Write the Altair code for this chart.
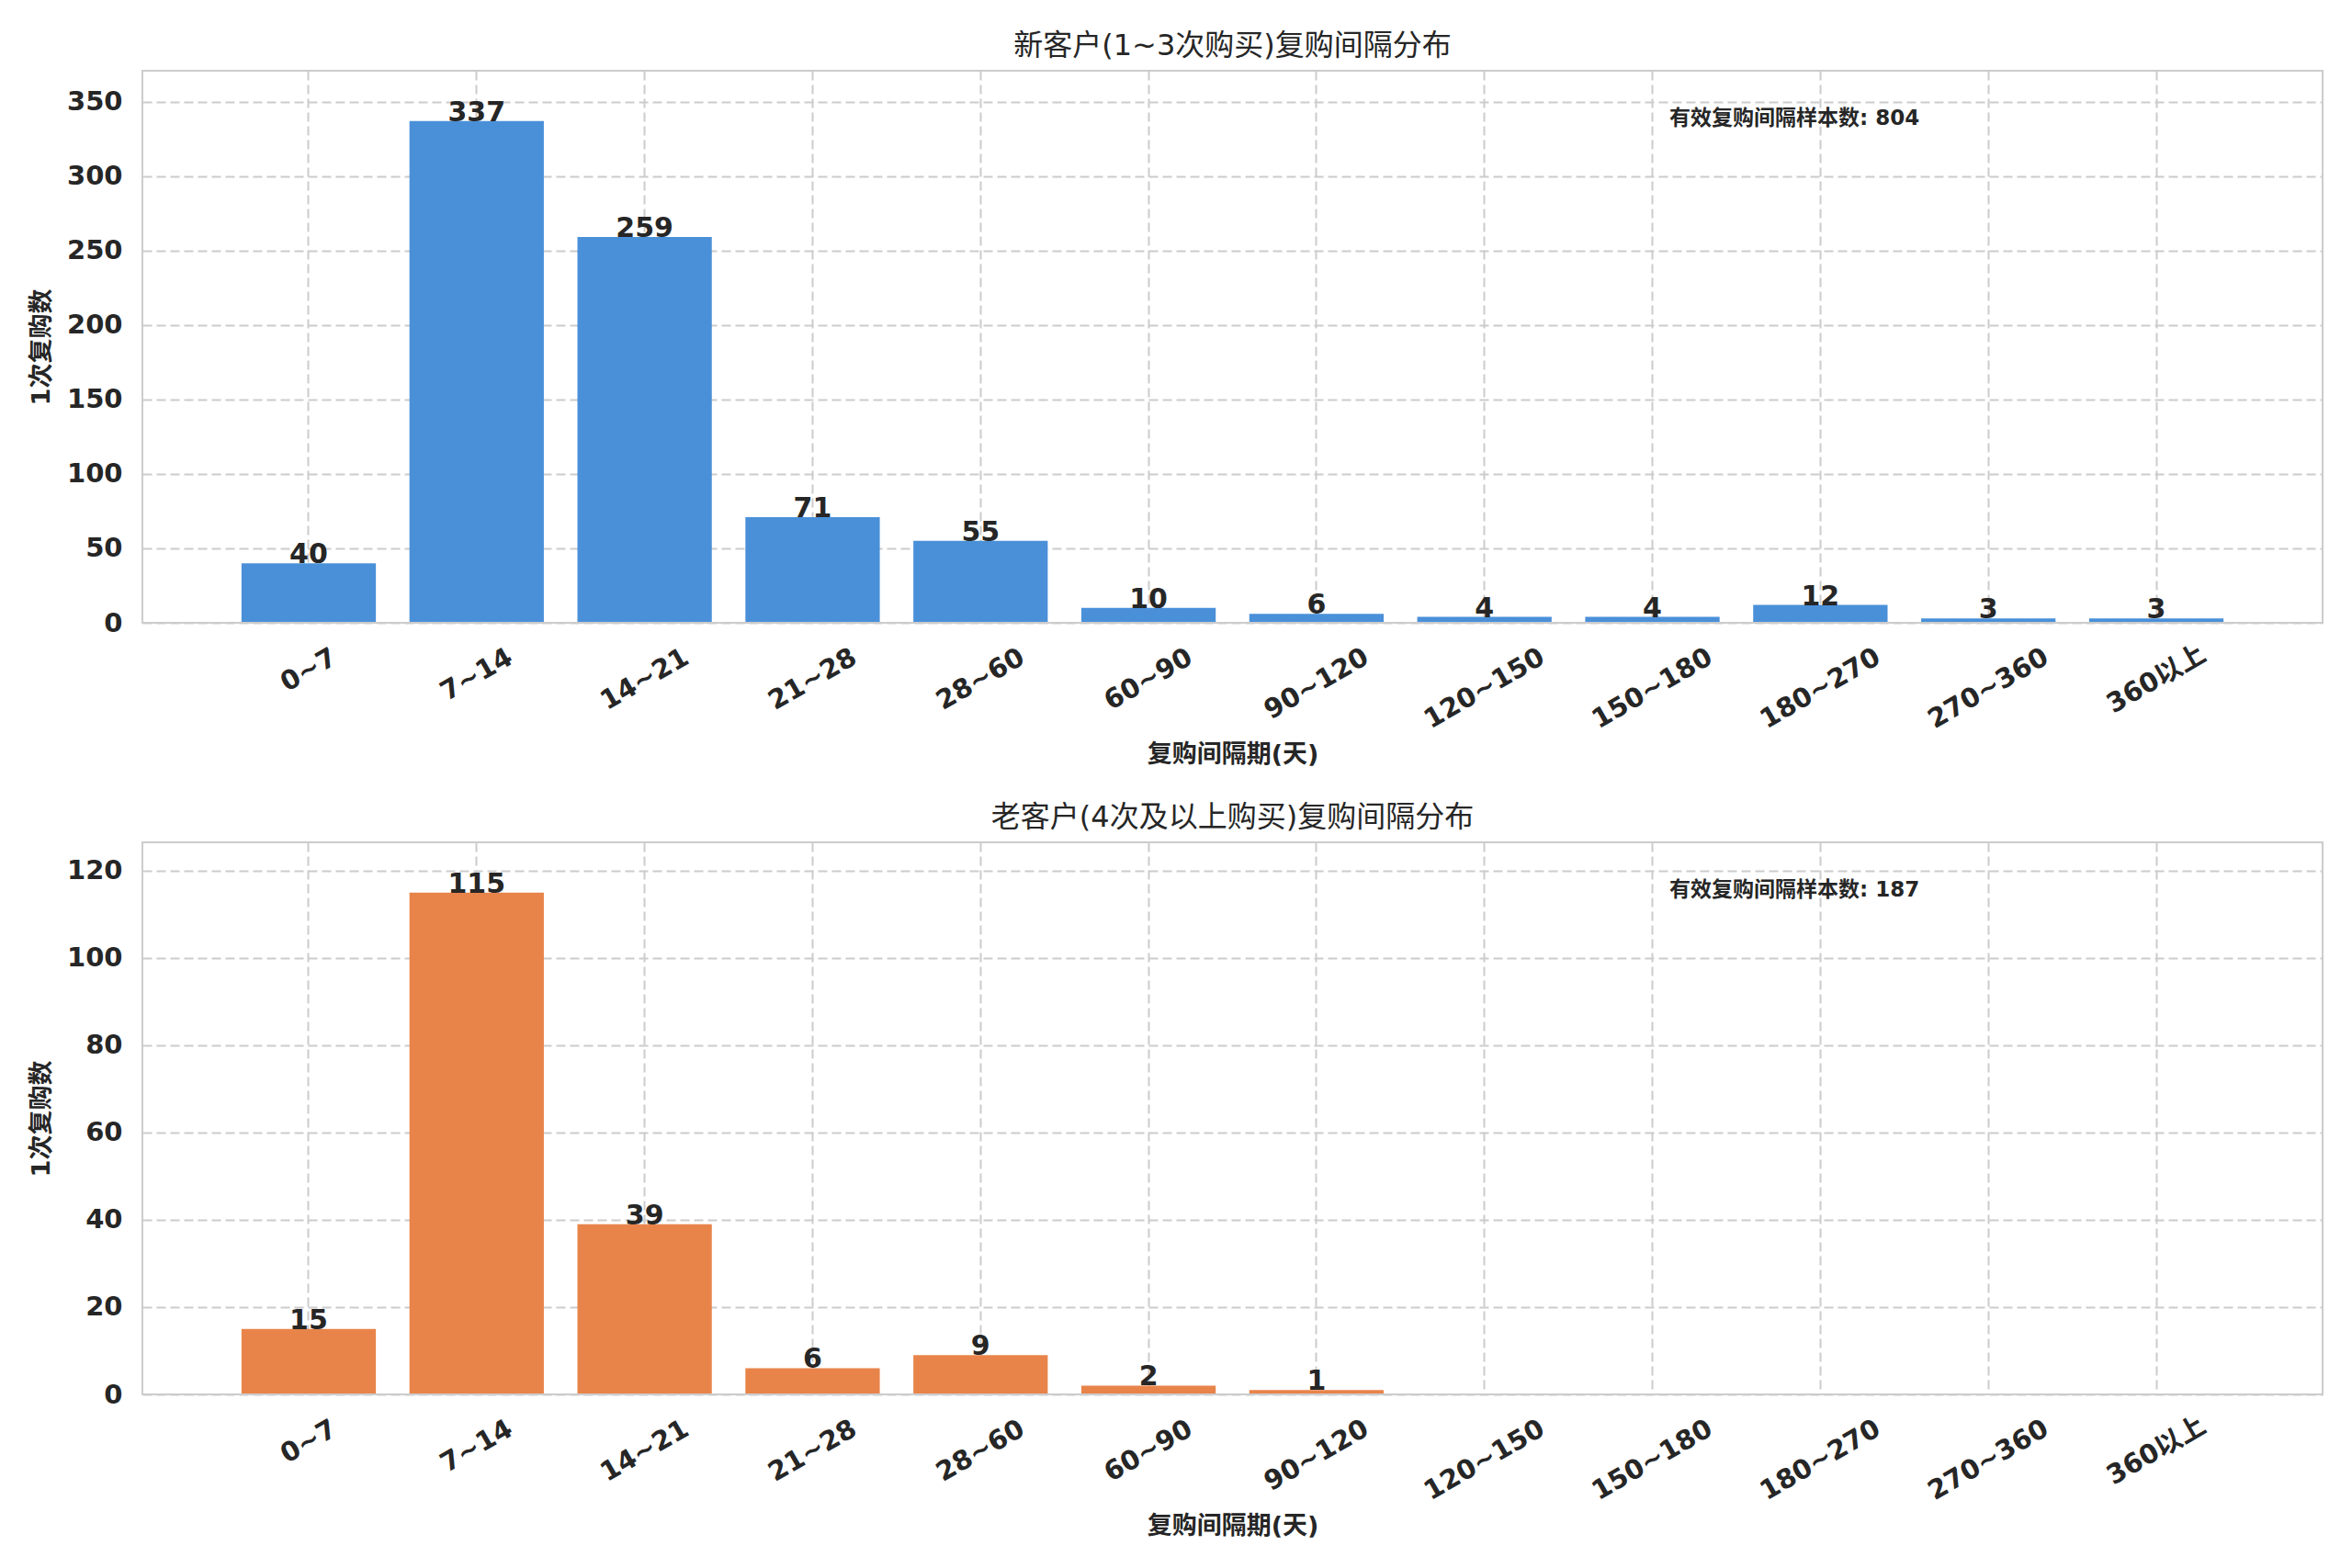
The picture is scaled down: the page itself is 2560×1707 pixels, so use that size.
import altair as alt
import pandas as pd

# ---- data ----
categories = ["0~7", "7~14", "14~21", "21~28", "28~60", "60~90", "90~120",
              "120~150", "150~180", "180~270", "270~360", "360以上"]
low_counts = [40, 337, 259, 71, 55, 10, 6, 4, 4, 12, 3, 3]
high_counts = [15, 115, 39, 6, 9, 2, 1, 0, 0, 0, 0, 0]

title_low = "新客户(1~3次购买)复购间隔分布"
title_high = "老客户(4次及以上购买)复购间隔分布"
x_title = "复购间隔期(天)"
y_title = "1次复购数"
note_label = "有效复购间隔样本数"
low_ticks = [0, 50, 100, 150, 200, 250, 300, 350]
high_ticks = [0, 20, 40, 60, 80, 100, 120]

BLUE = "#4A90D9"
ORANGE = "#E8844A"
TEXT = "#262626"
GRID = "#cccccc"
FONT = "'DejaVu Sans', 'Noto Sans CJK SC', sans-serif"

W, H = 2373, 601


def panel(values, color, title, ticks):
    df = pd.DataFrame({"bin": categories, "count": values})
    ymax = max(values) * 1.1
    x_enc = alt.X(
        "bin:N",
        scale=alt.Scale(domain=categories, paddingInner=0.2, paddingOuter=0.59),
        axis=alt.Axis(
            title=x_title, labelAngle=330, labelAlign="center",
            labelBaseline="middle",
            labelPadding=alt.ExprRef("36 + 5*length(datum.label)"),
            ticks=False, tickSize=0,
            domain=False, grid=True, bandPosition=0.5,
            titleY=143, titleBaseline="middle",
        ),
    )
    y_enc = alt.Y(
        "count:Q",
        scale=alt.Scale(domain=[0, ymax], nice=False, zero=True),
        axis=alt.Axis(
            title=y_title, values=ticks, ticks=False, tickSize=0, domain=False,
            grid=True, labelPadding=22, titleX=-110, titleY=H / 2,
            titleBaseline="middle", titleAngle=270,
        ),
    )
    base = alt.Chart(df)
    bars = base.mark_bar(color=color).encode(x=x_enc, y=y_enc)
    labels = base.transform_filter("datum.count > 0").mark_text(
        baseline="alphabetic", align="center", fontSize=30,
        fontWeight="bold", font=FONT, color=TEXT,
    ).encode(x=x_enc, y=y_enc, text="count:Q")
    note = alt.Chart(pd.DataFrame({"t": [f"{note_label}: {sum(values)}"]})).mark_text(
        align="left", baseline="middle", fontSize=23, fontWeight="bold",
        font=FONT, color=TEXT,
    ).encode(x=alt.value(1662), y=alt.value(52), text="t:N")
    head = alt.Chart(pd.DataFrame({"t": [title]})).mark_text(
        align="center", baseline="middle", fontSize=32, fontWeight="normal",
        font=FONT, color=TEXT,
    ).encode(x=alt.value(W / 2), y=alt.value(-27), text="t:N")
    frame = alt.Chart(pd.DataFrame({"a": [0]})).mark_rect(
        fillOpacity=0, stroke=GRID, strokeWidth=2,
    ).encode(x=alt.value(0), x2=alt.value(W), y=alt.value(0), y2=alt.value(H))
    return alt.layer(bars, labels, note, head, frame).properties(width=W, height=H)


top = panel(low_counts, BLUE, title_low, low_ticks)
bottom = panel(high_counts, ORANGE, title_high, high_ticks)

chart = alt.vconcat(top, bottom, spacing=40).properties(
    padding={"left": 23, "top": 26, "right": 5, "bottom": 5},
    background="white",
).configure_view(stroke=None).configure_axis(
    labelFont=FONT, labelFontSize=29, labelFontWeight="bold", labelColor=TEXT,
    titleFont=FONT, titleFontSize=27, titleFontWeight="bold", titleColor=TEXT,
    gridColor=GRID, gridDash=[10, 5], gridWidth=2,
)

chart.save("out.html", embed_options={"renderer": "svg", "actions": False})
